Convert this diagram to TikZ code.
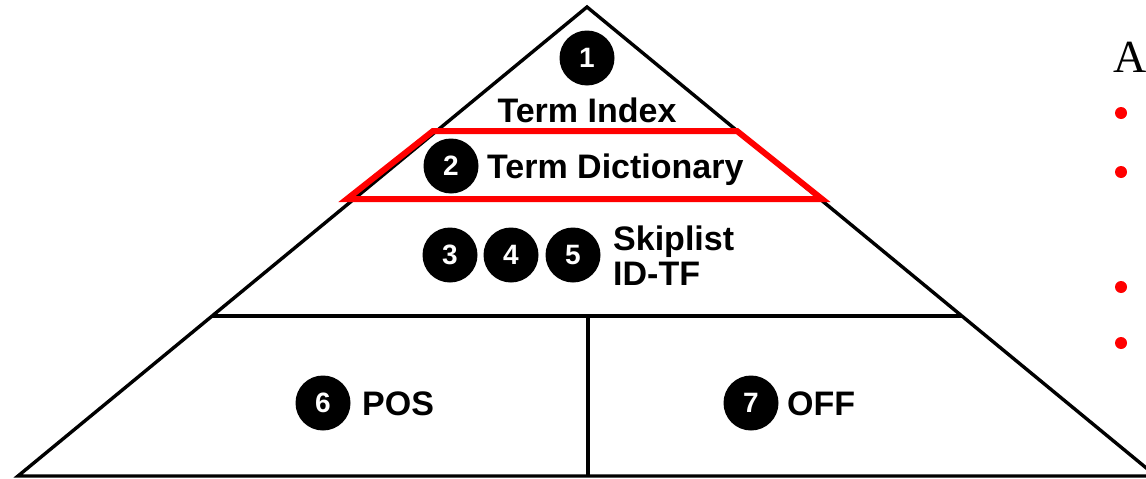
\documentclass[tikz,border=0pt]{standalone}
\usepackage{fontspec}
\setmainfont{Liberation Sans}
\newfontfamily\serifA{Liberation Serif}
\begin{document}
\begin{tikzpicture}[x=1pt,y=-1pt,
  numc/.style={circle,fill=black,minimum size=55pt,inner sep=0pt,text=white,font=\fontsize{28}{30}\selectfont\bfseries},
  lbl/.style={inner sep=0pt,font=\fontsize{34}{38}\selectfont\bfseries},
  edge/.style={line width=3.4pt,black,line join=miter},
  redbox/.style={line width=6pt,red,line join=miter},
  bullet/.style={circle,fill=red,minimum size=12pt,inner sep=0pt}]
\useasboundingbox (0,0) rectangle (1146,479);
\clip (0,0) rectangle (1146,479);
\coordinate (apex) at (587,7);
\coordinate (bl) at (18,476);
\coordinate (br) at (1156,476);
\coordinate (ml) at (212,316);
\coordinate (mr) at (962,316);
\coordinate (mb) at (588,316);
\coordinate (bb) at (588,476);
\draw[edge] (bl) -- (apex) -- (br) -- cycle;
\draw[edge] (ml) -- (mr);
\draw[edge] (mb) -- (bb);
\draw[redbox] (433,131) coordinate (r1) -- (737,131) coordinate (r2) -- (822,199) coordinate (r3) -- (347,199) coordinate (r4) -- cycle;
\node[numc] (n1) at (587,58) {1};
\node[lbl,anchor=base] (t1) at (587,122) {Term Index};
\node[numc] (n2) at (451,166) {2};
\node[lbl,anchor=base west] (t2) at (487,178) {Term Dictionary};
\node[numc] (n3) at (450,255) {3};
\node[numc] (n4) at (511,255) {4};
\node[numc] (n5) at (573,255) {5};
\node[lbl,anchor=base west] (t3) at (613,250) {Skiplist};
\node[lbl,anchor=base west] (t4) at (613,285) {ID-TF};
\node[numc] (n6) at (323,403) {6};
\node[lbl,anchor=base west] (t6) at (362,415) {POS};
\node[numc] (n7) at (751,403) {7};
\node[lbl,anchor=base west] (t7) at (787,415) {OFF};
\node[inner sep=0pt,anchor=base west,font=\serifA\fontsize{46}{50}\selectfont] (A) at (1113,72) {A};
\node[bullet] (b1) at (1121,113) {};
\node[bullet] (b2) at (1121,172) {};
\node[bullet] (b3) at (1121,287) {};
\node[bullet] (b4) at (1121,343) {};
\end{tikzpicture}
\end{document}
